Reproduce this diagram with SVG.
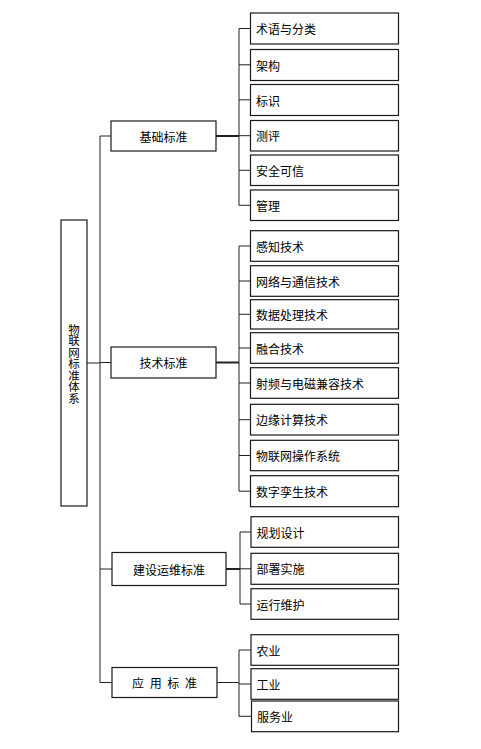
<svg xmlns="http://www.w3.org/2000/svg" width="481" height="749" viewBox="0 0 481 749">
<style>
rect{fill:#fff;stroke:#1a1a1a;stroke-width:1.2}
text{font-family:"Noto Sans CJK SC","Liberation Sans",sans-serif;font-size:12px;fill:#000;dominant-baseline:central}
.c{text-anchor:middle}
#connectors path{fill:none;stroke:#222;stroke-width:1}
#connectors .t{stroke-width:1.8}
</style>
<rect x="0" y="0" width="481" height="749" style="stroke:none"/>
<g id="connectors">
<path d="M87 363H100M100 136V682.5"/>
<path d="M100 136H111M100 362.5H111M100 569H112M100 682.5H112"/>
<path class="t" d="M216 136H239M216 362.5H239M226 569H240"/>
<path d="M217 682.5H239"/>
<path d="M239 28.5V205.5M239 246V491M240 532V604M239 650V716.5"/>
<path d="M239 28.5H250M239 64.8H250M239 99.8H250M239 135.7H250M239 170.3H250M239 205.3H250"/>
<path d="M239 246H250M239 281H250M239 314.3H250M239 348H250M239 383H250M239 419.7H250M239 455.5H250M239 491.2H250"/>
<path d="M240 532H251M240 568.8H251M240 604H251"/>
<path d="M239 650H251M239 684H251M239 716.3H251"/>
</g>
<g id="root"><rect x="61" y="220" width="26" height="286"/><text x="74" y="364" class="c" style="writing-mode:vertical-rl;font-size:11.5px">物联网标准体系</text></g>
<g id="n1"><rect x="111" y="121" width="105" height="30"/><text x="163.5" y="136" class="c">基础标准</text></g>
<g id="n2"><rect x="111" y="347" width="105" height="31"/><text x="163.5" y="362.5" class="c">技术标准</text></g>
<g id="n3"><rect x="112" y="552.5" width="114" height="33"/><text x="169" y="569" class="c">建设运维标准</text></g>
<g id="n4"><rect x="112" y="667.5" width="105" height="30"/><text x="164.5" y="682.5" class="c" style="word-spacing:3px" xml:space="preserve">应 用 标 准</text></g>
<g id="l1"><rect x="250.5" y="13" width="148" height="31"/><text x="256" y="28.5">术语与分类</text></g>
<g id="l2"><rect x="250.5" y="49.5" width="148" height="31"/><text x="256" y="65">架构</text></g>
<g id="l3"><rect x="250.5" y="84.5" width="148" height="31"/><text x="256" y="100">标识</text></g>
<g id="l4"><rect x="250.5" y="120.5" width="148" height="30.5"/><text x="256" y="135.7">测评</text></g>
<g id="l5"><rect x="250.5" y="155" width="148" height="30.5"/><text x="256" y="170.3">安全可信</text></g>
<g id="l6"><rect x="250.5" y="190" width="148" height="30.5"/><text x="256" y="205.3">管理</text></g>
<g id="l7"><rect x="250.5" y="230.7" width="148" height="30.6"/><text x="256" y="246">感知技术</text></g>
<g id="l8"><rect x="250.5" y="265.7" width="148" height="30.6"/><text x="256" y="281">网络与通信技术</text></g>
<g id="l9"><rect x="250.5" y="299.7" width="148" height="29.3"/><text x="256" y="314.3">数据处理技术</text></g>
<g id="l10"><rect x="250.5" y="332.7" width="148" height="30.6"/><text x="256" y="348">融合技术</text></g>
<g id="l11"><rect x="250.5" y="367.7" width="148" height="30.6"/><text x="256" y="383">射频与电磁兼容技术</text></g>
<g id="l12"><rect x="250.5" y="404.3" width="148" height="30.7"/><text x="256" y="419.7">边缘计算技术</text></g>
<g id="l13"><rect x="250.5" y="440.3" width="148" height="30.4"/><text x="256" y="455.5">物联网操作系统</text></g>
<g id="l14"><rect x="250.5" y="475.7" width="148" height="31"/><text x="256" y="491.2">数字孪生技术</text></g>
<g id="l15"><rect x="251" y="516.7" width="147.5" height="30.6"/><text x="256.5" y="532">规划设计</text></g>
<g id="l16"><rect x="251" y="553.3" width="147.5" height="31"/><text x="256.5" y="568.8">部署实施</text></g>
<g id="l17"><rect x="251" y="588.7" width="147.5" height="30.6"/><text x="256.5" y="604">运行维护</text></g>
<g id="l18"><rect x="251" y="634.7" width="147.5" height="30.6"/><text x="256.5" y="650">农业</text></g>
<g id="l19"><rect x="251" y="668.7" width="147.5" height="30.6"/><text x="256.5" y="684">工业</text></g>
<g id="l20"><rect x="251.5" y="701" width="147" height="30.7"/><text x="257" y="716.3">服务业</text></g>
</svg>
